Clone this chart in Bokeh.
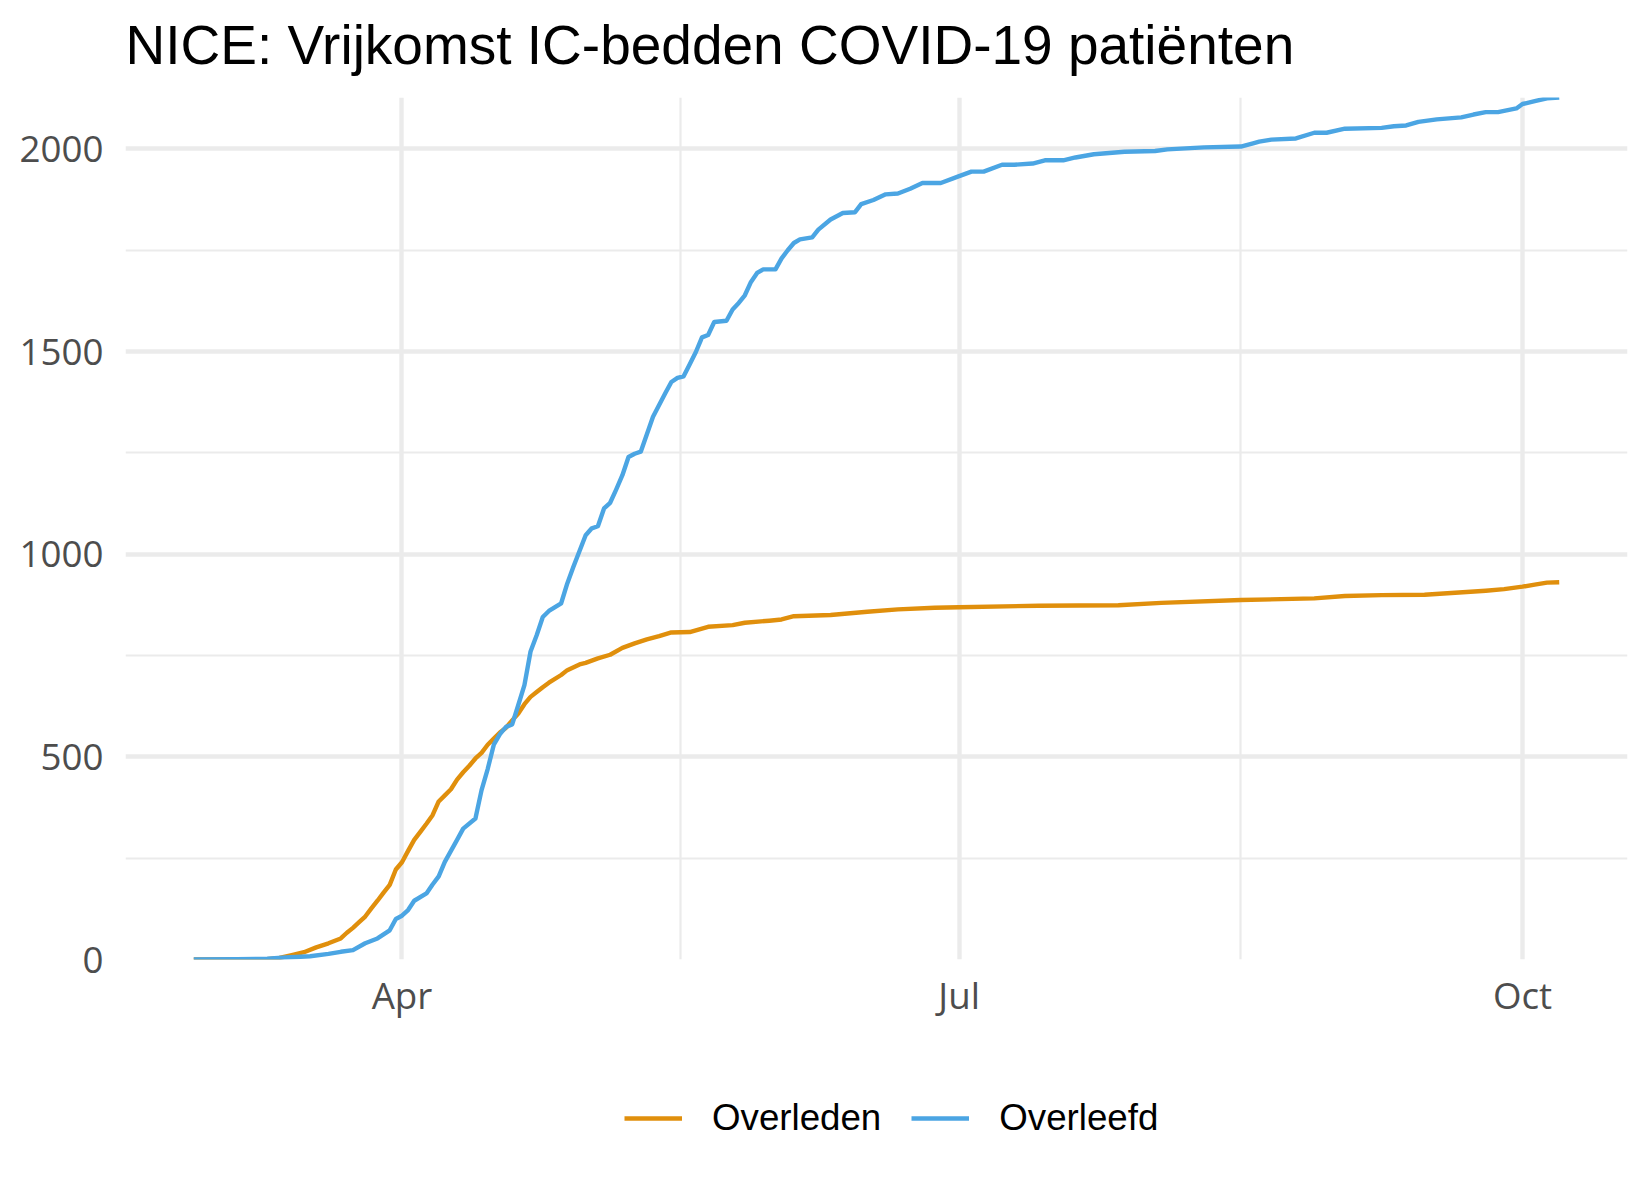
import pandas as pd
from bokeh.plotting import figure
from bokeh.layouts import column
from bokeh.models import Range1d, FixedTicker, Legend, LegendItem, ColumnDataSource, Label
from bokeh.embed import file_html
from bokeh.resources import INLINE

# ---------------- data ----------------
title_text = "NICE: Vrijkomst IC-bedden COVID-19 patiënten"
series_names = ["Overleden", "Overleefd"]
series_colors = ["#E08F0C", "#4BA5E3"]

overleden_dates = [
    "2020-02-27", "2020-03-05", "2020-03-10", "2020-03-12", "2020-03-14", "2020-03-16",
    "2020-03-18", "2020-03-20", "2020-03-22", "2020-03-23", "2020-03-24", "2020-03-25",
    "2020-03-26", "2020-03-27", "2020-03-28", "2020-03-29", "2020-03-30", "2020-03-31",
    "2020-04-01", "2020-04-02", "2020-04-03", "2020-04-04", "2020-04-05", "2020-04-06",
    "2020-04-07", "2020-04-08", "2020-04-09", "2020-04-10", "2020-04-11", "2020-04-12",
    "2020-04-13", "2020-04-14", "2020-04-15", "2020-04-16", "2020-04-17", "2020-04-18",
    "2020-04-19", "2020-04-20", "2020-04-21", "2020-04-22", "2020-04-23", "2020-04-24",
    "2020-04-25", "2020-04-27", "2020-04-28", "2020-04-30", "2020-05-01", "2020-05-03",
    "2020-05-05", "2020-05-07", "2020-05-09", "2020-05-11", "2020-05-13", "2020-05-15",
    "2020-05-18", "2020-05-21", "2020-05-25", "2020-05-27", "2020-05-31", "2020-06-02",
    "2020-06-04", "2020-06-10", "2020-06-16", "2020-06-21", "2020-06-27", "2020-07-01",
    "2020-07-14", "2020-07-27", "2020-08-03", "2020-08-16", "2020-08-28", "2020-09-02",
    "2020-09-08", "2020-09-15", "2020-09-20", "2020-09-25", "2020-09-28", "2020-10-01",
    "2020-10-03", "2020-10-05", "2020-10-07",
]
overleden_values = [
    0, 0, 1, 4, 11, 18,
    30, 40, 52, 66, 78, 92,
    106, 126, 145, 165, 184, 222,
    240, 268, 295, 315, 335, 356,
    390, 405, 420, 444, 462, 478,
    496, 510, 530, 545, 560, 572,
    590, 607, 630, 648, 660, 672,
    683, 702, 714, 728, 732, 743,
    752, 769, 780, 790, 798, 807,
    808, 821, 825, 831, 836, 839,
    847, 850, 858, 864, 868, 869,
    873, 874, 880, 887, 891, 897,
    899, 900, 905, 910, 914, 920,
    925, 930, 931,
]

overleefd_dates = [
    "2020-02-27", "2020-03-05", "2020-03-10", "2020-03-13", "2020-03-17", "2020-03-20",
    "2020-03-22", "2020-03-24", "2020-03-26", "2020-03-28", "2020-03-30", "2020-03-31",
    "2020-04-01", "2020-04-02", "2020-04-03", "2020-04-05", "2020-04-06", "2020-04-07",
    "2020-04-08", "2020-04-09", "2020-04-10", "2020-04-11", "2020-04-13", "2020-04-14",
    "2020-04-15", "2020-04-16", "2020-04-17", "2020-04-18", "2020-04-19", "2020-04-20",
    "2020-04-21", "2020-04-22", "2020-04-23", "2020-04-24", "2020-04-25", "2020-04-27",
    "2020-04-28", "2020-04-29", "2020-04-30", "2020-05-01", "2020-05-02", "2020-05-03",
    "2020-05-04", "2020-05-05", "2020-05-06", "2020-05-07", "2020-05-08", "2020-05-09",
    "2020-05-10", "2020-05-11", "2020-05-12", "2020-05-13", "2020-05-14", "2020-05-15",
    "2020-05-16", "2020-05-17", "2020-05-18", "2020-05-19", "2020-05-20", "2020-05-21",
    "2020-05-22", "2020-05-24", "2020-05-25", "2020-05-26", "2020-05-27", "2020-05-28",
    "2020-05-29", "2020-05-30", "2020-06-01", "2020-06-02", "2020-06-03", "2020-06-04",
    "2020-06-05", "2020-06-07", "2020-06-08", "2020-06-10", "2020-06-12", "2020-06-14",
    "2020-06-15", "2020-06-17", "2020-06-19", "2020-06-21", "2020-06-23", "2020-06-25",
    "2020-06-28", "2020-07-01", "2020-07-03", "2020-07-05", "2020-07-08", "2020-07-10",
    "2020-07-13", "2020-07-15", "2020-07-18", "2020-07-20", "2020-07-23", "2020-07-28",
    "2020-08-02", "2020-08-04", "2020-08-10", "2020-08-16", "2020-08-18", "2020-08-19",
    "2020-08-21", "2020-08-25", "2020-08-28", "2020-08-30", "2020-09-02", "2020-09-08",
    "2020-09-10", "2020-09-12", "2020-09-14", "2020-09-17", "2020-09-21", "2020-09-23",
    "2020-09-25", "2020-09-27", "2020-09-30", "2020-10-01", "2020-10-03", "2020-10-05",
    "2020-10-07",
]
overleefd_values = [
    0, 1, 2, 5, 8, 14,
    19, 23, 40, 52, 72, 100,
    108, 122, 145, 163, 185, 205,
    241, 268, 295, 323, 348, 418,
    470, 530, 556, 574, 580, 628,
    677, 760, 800, 845, 860, 879,
    928, 969, 1008, 1047, 1064, 1069,
    1113, 1127, 1160, 1195, 1240, 1248,
    1253, 1296, 1339, 1368, 1397, 1425,
    1435, 1439, 1469, 1499, 1535, 1541,
    1573, 1576, 1604, 1620, 1639, 1672,
    1694, 1703, 1703, 1730, 1750, 1768,
    1777, 1782, 1801, 1826, 1842, 1844,
    1864, 1874, 1888, 1890, 1902, 1916,
    1916, 1933, 1944, 1944, 1961, 1961,
    1964, 1972, 1972, 1979, 1987, 1993,
    1995, 1999, 2004, 2006, 2014, 2018,
    2023, 2026, 2040, 2040, 2050, 2052,
    2056, 2058, 2067, 2073, 2078, 2085,
    2091, 2091, 2100, 2111, 2118, 2125,
    2127,
]

x_tick_dates = ["2020-04-01", "2020-07-01", "2020-10-01"]
x_tick_labels = ["Apr", "Jul", "Oct"]
x_minor_dates = ["2020-05-16 12:00", "2020-08-16"]
y_ticks = [0, 500, 1000, 1500, 2000]
y_minor_ticks = [250, 750, 1250, 1750]

# ---------------- helpers ----------------
def ms(d):
    return pd.Timestamp(d).value / 1e6

GRID = "#EBEBEB"
TICK_COLOR = "#4D4D4D"
TICK_FONT = "Open Sans"
TEXT_FONT = "Liberation Sans"

x0 = min(ms(overleden_dates[0]), ms(overleefd_dates[0]))
x1 = max(ms(overleden_dates[-1]), ms(overleefd_dates[-1]))
pad = (x1 - x0) * 0.05
ymax = max(max(overleden_values), max(overleefd_values))

W = 1642
H_HEAD = 97
H_MAIN = 943
H_LEG = 152
FRAME_LEFT = 125


def strip(height):
    f = figure(
        width=W, height=height,
        x_range=Range1d(0, 1), y_range=Range1d(0, 1),
        x_axis_location=None, y_axis_location=None,
        output_backend="svg", toolbar_location=None,
        min_border=0, min_border_left=0, min_border_right=0,
        min_border_top=0, min_border_bottom=0,
        outline_line_color=None,
        background_fill_color="white", border_fill_color="white",
    )
    f.grid.visible = False
    return f


# ---------------- title strip (frame aligned with main plot frame) ----------------
ph = strip(H_HEAD)
ph.add_layout(Label(
    x=0, y=53, x_units="screen", y_units="screen",
    text=title_text, text_font=TEXT_FONT, text_font_size="55px",
    text_color="#000000", text_align="left", text_baseline="alphabetic",
))

# ---------------- main plot ----------------
p = figure(
    width=W, height=H_MAIN,
    x_axis_type="datetime",
    x_range=Range1d(x0 - pad, x1 + pad),
    y_range=Range1d(0, ymax),
    output_backend="svg",
    toolbar_location=None,
    min_border_left=FRAME_LEFT, min_border_right=15,
    min_border_top=0, min_border_bottom=H_MAIN - 862,
    background_fill_color="white", border_fill_color="white",
    outline_line_color=None,
)
try:
    p.title = None
except Exception:
    p.title.text = ""
    p.title.standoff = 0

xt = FixedTicker(ticks=[ms(d) for d in x_tick_dates],
                 minor_ticks=[ms(d) for d in x_minor_dates])
yt = FixedTicker(ticks=y_ticks, minor_ticks=y_minor_ticks)
p.xaxis.ticker = xt
p.yaxis.ticker = yt
p.xaxis.major_label_overrides = {ms(d): lab for d, lab in zip(x_tick_dates, x_tick_labels)}
p.yaxis.major_label_overrides = {v: str(v) for v in y_ticks}

for ax in (p.xaxis, p.yaxis):
    ax.axis_line_color = None
    ax.major_tick_line_color = None
    ax.minor_tick_line_color = None
    ax.major_tick_out = 0
    ax.major_tick_in = 0
    ax.minor_tick_out = 0
    ax.minor_tick_in = 0
    ax.major_label_text_font = TICK_FONT
    ax.major_label_text_font_size = "36.7px"
    ax.major_label_text_color = TICK_COLOR
p.yaxis.major_label_standoff = 22
p.xaxis.major_label_standoff = 10

for g in (p.xgrid, p.ygrid):
    g.grid_line_color = GRID
    g.grid_line_width = 4.4
    g.minor_grid_line_color = GRID
    g.minor_grid_line_width = 2.2
p.xgrid.ticker = xt
p.ygrid.ticker = yt

src_a = ColumnDataSource(dict(x=pd.to_datetime(overleden_dates), y=overleden_values))
src_b = ColumnDataSource(dict(x=pd.to_datetime(overleefd_dates), y=overleefd_values))
sources = [src_a, src_b]
for s, c in zip(sources, series_colors):
    p.line("x", "y", source=s, line_color=c, line_width=4.4, line_join="round")

# ---------------- legend strip (frame aligned with main plot frame) ----------------
pl = strip(H_LEG)
# same series drawn here only to feed the legend keys (outside this strip's ranges)
key_renderers = [pl.line("x", "y", source=s, line_color=c, line_width=4.4)
                 for s, c in zip(sources, series_colors)]

legend = Legend(
    items=[LegendItem(label=n, renderers=[r]) for n, r in zip(series_names, key_renderers)],
    orientation="horizontal",
    location=(499, 52),
    glyph_width=58, glyph_height=44,
    label_standoff=30, spacing=30,
    padding=0, margin=0,
    border_line_color=None, background_fill_alpha=0,
    label_text_font=TEXT_FONT, label_text_font_size="36.7px",
    label_text_color="#000000",
)
pl.add_layout(legend)

layout = column(ph, p, pl, spacing=0)
open("out.html", "w").write(file_html(layout, INLINE))
